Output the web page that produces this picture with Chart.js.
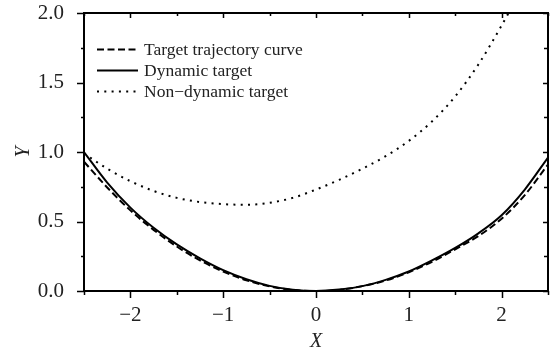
<!DOCTYPE html>
<html>
<head>
<meta charset="utf-8">
<script src="https://cdn.jsdelivr.net/npm/chart.js@4"></script>
<style>
  html, body { margin: 0; padding: 0; background: #fff; }
  #wrap { width: 551px; height: 354px; }
</style>
</head>
<body>
<div id="wrap"><canvas id="chart" width="551" height="354"></canvas></div>
<script>
// x positions shared by the target and dynamic curves
const X_VALUES = [-2.5, -2.25, -2.0, -1.75, -1.5, -1.25, -1.0, -0.75, -0.5, -0.25, 0,
	0.25, 0.5, 0.75, 1.0, 1.25, 1.5, 1.75, 2.0, 2.25, 2.5];
const TARGET_Y = [0.93, 0.745, 0.58, 0.44, 0.32, 0.22, 0.14, 0.077, 0.033, 0.007, -0.003,
	0.008, 0.035, 0.075, 0.135, 0.21, 0.30, 0.395, 0.52, 0.69, 0.91];
const DYNAMIC_Y = [1.0, 0.78, 0.60, 0.455, 0.335, 0.235, 0.15, 0.085, 0.037, 0.009, 0.0,
	0.01, 0.035, 0.08, 0.14, 0.22, 0.31, 0.415, 0.545, 0.73, 0.96];
// the non-dynamic curve leaves the box at the top, so it has its own x list
const NONDYN_X = [-2.5, -2.25, -2.0, -1.75, -1.5, -1.25, -1.0, -0.75, -0.5, -0.25, 0,
	0.25, 0.5, 0.75, 1.0, 1.25, 1.5, 1.75, 2.0, 2.1];
const NONDYN_Y = [0.99, 0.88, 0.79, 0.72, 0.67, 0.64, 0.625, 0.62, 0.635, 0.67, 0.73,
	0.80, 0.88, 0.97, 1.08, 1.22, 1.40, 1.63, 1.91, 2.03];
const SERIES_NAMES = ['Target trajectory curve', 'Dynamic target', 'Non\u2212dynamic target'];

const FONT = 'Liberation Serif';
const TEXT_COLOR = '#222';

const pts = (xs, ys) => xs.map((x, i) => ({ x: x, y: ys[i] }));

function isStep(v, step) {
	return Math.abs(v / step - Math.round(v / step)) < 1e-6;
}

// frame, tick marks and in-plot legend
const frame = {
	id: 'frame',
	afterDatasetsDraw(chart) {
		const { ctx, chartArea: a } = chart;
		const xs = chart.scales.x, ys = chart.scales.y;
		ctx.save();
		ctx.strokeStyle = '#000';
		ctx.lineWidth = 1.5;
		ctx.beginPath();
		xs.ticks.forEach(t => {
			const px = Math.round(xs.getPixelForValue(t.value)) + 0.5;
			const major = isStep(t.value, 1);
			ctx.moveTo(px, a.bottom); ctx.lineTo(px, a.bottom + (major ? 7 : 4));
			ctx.moveTo(px, a.top); ctx.lineTo(px, a.top + (major ? 5 : 3));
		});
		ys.ticks.forEach(t => {
			const py = Math.round(ys.getPixelForValue(t.value)) + 0.5;
			const major = isStep(t.value, 0.5);
			ctx.moveTo(a.left, py); ctx.lineTo(a.left - (major ? 7 : 3), py);
			ctx.moveTo(a.right, py); ctx.lineTo(a.right - (major ? 5 : 4), py);
		});
		ctx.stroke();
		ctx.lineWidth = 2;
		ctx.strokeRect(a.left, a.top, a.right - a.left, a.bottom - a.top);

		// legend
		const rows = [49, 70, 91];
		chart.data.datasets.forEach((ds, i) => {
			const y = rows[i] + 0.5;
			ctx.beginPath();
			ctx.lineWidth = ds.borderWidth;
			ctx.setLineDash(ds.borderDash || []);
			ctx.moveTo(97, y); ctx.lineTo(138, y);
			ctx.stroke();
			ctx.setLineDash([]);
			ctx.fillStyle = TEXT_COLOR;
			ctx.font = '17.5px "' + FONT + '"';
			ctx.textBaseline = 'middle';
			ctx.fillText(ds.label, 144, rows[i] + 1);
		});
		ctx.restore();
	},
};

const data_chart = {
	datasets: [
		{
			label: SERIES_NAMES[0],
			data: pts(X_VALUES, TARGET_Y),
			borderColor: '#000',
			borderWidth: 2,
			borderDash: [7, 3.5],
		},
		{
			label: SERIES_NAMES[1],
			data: pts(X_VALUES, DYNAMIC_Y),
			borderColor: '#000',
			borderWidth: 2,
		},
		{
			label: SERIES_NAMES[2],
			data: pts(NONDYN_X, NONDYN_Y),
			borderColor: '#000',
			borderWidth: 2,
			borderDash: [2, 5.3],
		},
	],
};

const config_chart = {
	type: 'line',
	data: data_chart,
	plugins: [frame],
	options: {
		responsive: false,
		animation: false,
		devicePixelRatio: 1,
		layout: { padding: { top: 13, right: 3, left: 0, bottom: 0 } },
		elements: {
			point: { radius: 0 },
			line: { cubicInterpolationMode: 'monotone', fill: false },
		},
		plugins: {
			legend: { display: false },
			tooltip: { enabled: false },
		},
		scales: {
			x: {
				type: 'linear',
				min: -2.5,
				max: 2.5,
				afterFit: s => {
					s.height = 63;
					s.paddingLeft = 0;
					s.paddingRight = 0;
				},
				grid: { display: false },
				border: { display: false },
				ticks: {
					stepSize: 0.5,
					autoSkip: false,
					maxRotation: 0,
					padding: 4,
					color: TEXT_COLOR,
					font: { family: FONT, size: 21 },
					callback: v => isStep(v, 1) && Math.abs(v) < 2.4 ? (v < 0 ? '\u2212' + Math.abs(v) : String(v)) : '',
				},
				title: {
					display: true,
					text: 'X',
					color: TEXT_COLOR,
					font: { family: FONT, size: 20, style: 'italic' },
					padding: { top: 2, bottom: 0 },
				},
			},
			y: {
				type: 'linear',
				min: 0,
				max: 2,
				afterFit: s => {
					s.width = 84;
					s.paddingTop = 0;
					s.paddingBottom = 0;
				},
				grid: { display: false },
				border: { display: false },
				ticks: {
					stepSize: 0.25,
					autoSkip: false,
					padding: 12,
					color: TEXT_COLOR,
					font: { family: FONT, size: 21 },
					callback: v => isStep(v, 0.5) ? v.toFixed(1) : '',
				},
				title: {
					display: true,
					text: 'Y',
					color: TEXT_COLOR,
					font: { family: FONT, size: 20, style: 'italic' },
					padding: { top: 12, bottom: 0 },
				},
			},
		},
	},
};

new Chart(document.getElementById('chart').getContext('2d'), config_chart);
</script>
</body>
</html>
